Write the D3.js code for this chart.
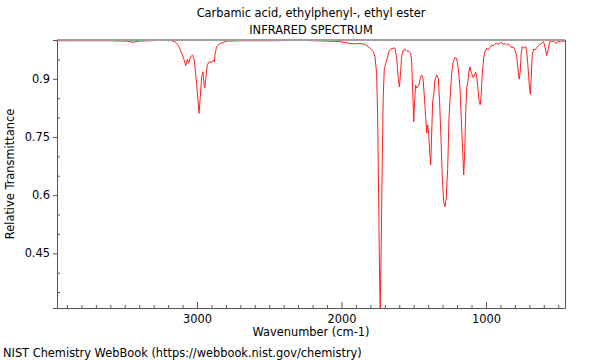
<!DOCTYPE html>
<html>
<head>
<meta charset="utf-8">
<script src="https://cdn.jsdelivr.net/npm/d3@7"></script>
<style>
  html, body { margin: 0; padding: 0; background: #fff; }
  svg text { font-family: "DejaVu Sans", sans-serif; fill: #000; }
</style>
</head>
<body>
<svg id="chart" width="600" height="360"></svg>
<script>
const titleLines = ["Carbamic acid, ethylphenyl-, ethyl ester", "INFRARED SPECTRUM"];
const xLabel = "Wavenumber (cm-1)";
const yLabel = "Relative Transmittance";
const footer = "NIST Chemistry WebBook (https://webbook.nist.gov/chemistry)";

const xTickValues = [3000, 2000, 1000];
const yTickValues = [0.45, 0.6, 0.75, 0.9];
const xDomain = [3969, 453];
const yDomain = [0.309, 1.0];

const wavenumber = [3969,3810,3602,3478,3443,3408,3256,3173,3152,3130,3106,3090,3078,3067,3058,3044,3030,3019,3007,2995,2986,2977,2968,2959,2950,2946,2938,2929,2915,2898,2887,2880,2874,2864,2841,2795,2703,2495,2287,2080,2011,1941,1907,1872,1838,1803,1780,1768,1757,1750,1743,1736,1732,1725,1718,1711,1704,1694,1683,1672,1660,1642,1630,1618,1607,1599,1592,1584,1573,1561,1549,1533,1521,1514,1507,1500,1494,1487,1480,1473,1464,1455,1445,1436,1427,1417,1410,1403,1396,1388,1383,1376,1369,1362,1353,1341,1330,1321,1312,1303,1293,1284,1275,1265,1256,1247,1238,1227,1215,1203,1192,1180,1171,1161,1154,1147,1140,1133,1125,1118,1111,1104,1095,1088,1078,1071,1064,1056,1047,1040,1033,1026,1016,1007,995,984,973,961,950,938,926,915,892,880,869,857,846,834,822,811,800,788,781,774,770,763,756,749,742,735,725,718,710,701,693,687,680,670,661,649,638,627,615,604,597,587,580,573,564,555,546,534,523,511,504,495,486,476,465,454];
const transmittance = [0.998,0.998,0.998,0.997,0.994,0.997,0.999,0.998,0.995,0.987,0.966,0.950,0.934,0.950,0.940,0.957,0.961,0.948,0.905,0.854,0.811,0.854,0.905,0.918,0.880,0.876,0.905,0.936,0.944,0.942,0.948,0.944,0.966,0.983,0.991,0.997,0.998,0.998,0.999,0.997,0.996,0.991,0.990,0.991,0.989,0.979,0.970,0.957,0.914,0.812,0.596,0.382,0.309,0.467,0.683,0.854,0.923,0.940,0.953,0.970,0.976,0.979,0.979,0.953,0.901,0.879,0.910,0.957,0.974,0.976,0.972,0.970,0.966,0.944,0.867,0.789,0.841,0.884,0.876,0.880,0.884,0.901,0.910,0.901,0.858,0.798,0.760,0.781,0.755,0.704,0.678,0.755,0.841,0.858,0.897,0.910,0.901,0.841,0.755,0.652,0.583,0.570,0.592,0.669,0.798,0.858,0.910,0.944,0.955,0.953,0.927,0.876,0.798,0.712,0.652,0.712,0.815,0.876,0.893,0.918,0.931,0.918,0.910,0.903,0.910,0.917,0.905,0.876,0.841,0.833,0.858,0.910,0.953,0.970,0.979,0.974,0.980,0.987,0.985,0.990,0.991,0.989,0.994,0.989,0.991,0.987,0.990,0.987,0.980,0.983,0.974,0.961,0.936,0.910,0.899,0.918,0.966,0.983,0.979,0.980,0.983,0.970,0.936,0.888,0.860,0.901,0.961,0.977,0.974,0.980,0.985,0.989,0.991,0.996,0.991,0.974,0.960,0.970,0.987,0.997,0.996,0.997,0.994,0.991,0.996,0.997,0.994,0.998,0.996,0.997];

const FS = 11.4;
const svg = d3.select("#chart");
const L = 57, R = 565, T = 40, B = 308;

const x = d3.scaleLinear().domain(xDomain).range([L, R]);
const y = d3.scaleLinear().domain(yDomain).range([B, T]);

svg.append("defs").append("clipPath").attr("id", "clip")
  .append("rect").attr("x", L).attr("y", T - 1).attr("width", R - L).attr("height", B - T + 2);

// Titles
titleLines.forEach((t, i) => {
  svg.append("text").attr("x", (L + R) / 2).attr("y", 17 + i * 17)
    .attr("text-anchor", "middle").attr("font-size", FS).text(t);
});

// Spectrum
const pts = wavenumber.map((w, i) => [w, transmittance[i]]);
svg.append("path").datum(pts)
  .attr("clip-path", "url(#clip)")
  .attr("fill", "none").attr("stroke", "#ff2020").attr("stroke-width", 1)
  .attr("d", d3.line().x(d => x(d[0])).y(d => y(d[1])));

// Frame
svg.append("line").attr("x1", L).attr("x2", R).attr("y1", T).attr("y2", T)
  .attr("stroke", "#a0a0a0").attr("stroke-width", 2);
svg.append("line").attr("x1", R + 0.5).attr("x2", R + 0.5).attr("y1", T).attr("y2", B)
  .attr("stroke", "#555").attr("stroke-width", 1);

// X axis (ticks inside)
const xMinor = d3.range(3900, 400, -100).filter(v => !xTickValues.includes(v));
const xAxisG = svg.append("g").attr("transform", `translate(0,${B})`);
xAxisG.append("g").call(d3.axisBottom(x).tickValues(xMinor).tickSize(-3).tickFormat(""))
  .call(g => g.select(".domain").remove())
  .call(g => g.selectAll("line").attr("stroke", "#555"));
xAxisG.append("g").call(d3.axisBottom(x).tickValues(xTickValues).tickSize(-6).tickPadding(7).tickFormat(d3.format("d")))
  .call(g => g.select(".domain").attr("stroke", "#555"))
  .call(g => g.selectAll("line").attr("stroke", "#555"))
  .call(g => g.selectAll("text").attr("font-size", FS).attr("font-family", "DejaVu Sans").attr("fill", "#000"));

// Y axis
const yMinor = d3.range(0.35, 0.99, 0.05).filter(v => !yTickValues.some(t => Math.abs(t - v) < 1e-6));
const yAxisG = svg.append("g").attr("transform", `translate(${L},0)`);
yAxisG.append("g").call(d3.axisLeft(y).tickValues(yMinor).tickSize(-3).tickFormat(""))
  .call(g => g.select(".domain").remove())
  .call(g => g.selectAll("line").attr("stroke", "#555"));
yAxisG.append("g").call(d3.axisLeft(y).tickValues(yTickValues).tickSize(4).tickPadding(3).tickFormat(d => String(d)))
  .call(g => g.select(".domain").attr("stroke", "#555"))
  .call(g => g.selectAll("line").attr("stroke", "#555"))
  .call(g => g.selectAll("text").attr("font-size", FS).attr("font-family", "DejaVu Sans").attr("fill", "#000"));

// Axis labels
svg.append("text").attr("x", (L + R) / 2).attr("y", 336)
  .attr("text-anchor", "middle").attr("font-size", FS).text(xLabel);
svg.append("text").attr("transform", `translate(14,${(T + B) / 2}) rotate(-90)`)
  .attr("text-anchor", "middle").attr("font-size", FS).text(yLabel);
svg.append("text").attr("x", 3).attr("y", 357).attr("font-size", FS).text(footer);
</script>
</body>
</html>
